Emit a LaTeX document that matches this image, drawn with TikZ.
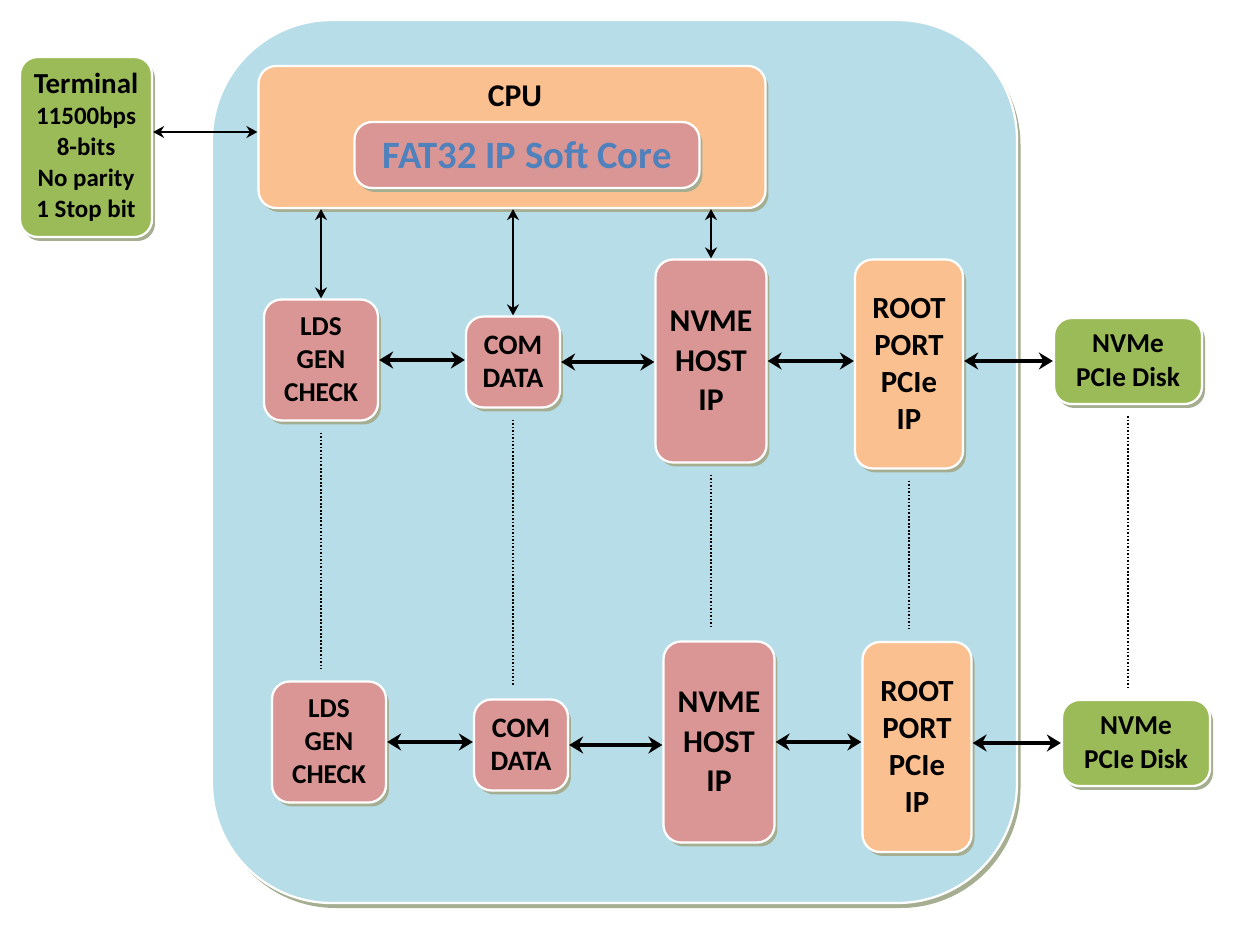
\documentclass[tikz,border=0pt]{standalone}
\usepackage{fontspec}
\setmainfont{Carlito}
\usetikzlibrary{arrows.meta,shadows}

\definecolor{panelblue}{HTML}{B7DDE8}
\definecolor{cpuorange}{HTML}{FAC090}
\definecolor{ippink}{HTML}{D99694}
\definecolor{diskgreen}{HTML}{9BBB59}
\definecolor{fatblue}{HTML}{4F81BD}
\definecolor{shadowgray}{HTML}{A6AE92}

\begin{document}
\begin{tikzpicture}[x=0.02cm, y=-0.02cm,
    box/.style={draw=white, line width=1.3pt, rounded corners=0.35cm,
        align=center, inner sep=0pt, text=black,
        drop shadow={shadow xshift=0.06cm, shadow yshift=-0.08cm,
            fill=shadowgray, opacity=1}},
    pinkbox/.style={box, fill=ippink},
    orangebox/.style={box, fill=cpuorange},
    greenbox/.style={box, fill=diskgreen},
    link/.style={line width=2.2pt, {Stealth[length=0.28cm,width=0.34cm]}-{Stealth[length=0.28cm,width=0.34cm]}},
    thinlink/.style={line width=1.5pt, {Stealth[length=0.22cm,width=0.24cm]}-{Stealth[length=0.22cm,width=0.24cm]}},
    dots/.style={densely dotted, line width=1pt, shorten <=0.22cm, shorten >=0.24cm},
    ldsfont/.style={font={\fontsize{15.5}{18.7}\selectfont\bfseries}},
    comfont/.style={font={\fontsize{16}{18.7}\selectfont\bfseries}},
    hostfont/.style={font={\fontsize{18}{22.5}\selectfont\bfseries}},
    rootfont/.style={font={\fontsize{17.5}{21}\selectfont\bfseries}},
    diskfont/.style={font={\fontsize{15.5}{19.3}\selectfont\bfseries}}]

    \useasboundingbox (0,0) rectangle (1237,935);

    % FPGA board
    \path[fill=panelblue, draw=white, line width=1.3pt, rounded corners=2.4cm,
        drop shadow={shadow xshift=0.07cm, shadow yshift=-0.1cm, fill=shadowgray, opacity=1}]
        (212,20) rectangle (1017,903);

    % Terminal
    \node[greenbox, minimum width=2.64cm, minimum height=3.6cm,
        font={\fontsize{14.2}{17.6}\selectfont\bfseries}] (term) at (86,147)
        {{\fontsize{16.5}{17.6}\selectfont Terminal}\\11500bps\\8-bits\\No parity\\1 Stop bit};

    % CPU with soft core
    \node[orangebox, minimum width=10.14cm, minimum height=2.84cm] (cpu) at (512,137) {};
    \node[font={\fontsize{18}{20}\selectfont\bfseries}] (cpulabel) at (515,96) {CPU};
    \node[pinkbox, minimum width=6.9cm, minimum height=1.32cm, text=fatblue,
        font={\fontsize{22}{24}\selectfont\bfseries}] (fat) at (527,155) {FAT32 IP Soft Core};

    % first channel
    \node[pinkbox, ldsfont, minimum width=2.28cm, minimum height=2.42cm] (lds1) at (321,360) {LDS\\GEN\\CHECK};
    \node[pinkbox, comfont, minimum width=1.88cm, minimum height=1.82cm] (com1) at (513,362) {COM\\DATA};
    \node[pinkbox, hostfont, minimum width=2.22cm, minimum height=4.06cm] (nvme1) at (711,361) {NVME\\HOST\\IP};
    \node[orangebox, rootfont, minimum width=2.16cm, minimum height=4.18cm] (root1) at (909,364) {ROOT\\PORT\\PCIe\\IP};
    \node[greenbox, diskfont, minimum width=2.96cm, minimum height=1.72cm] (disk1) at (1128,361) {NVMe\\PCIe Disk};

    % second channel
    \node[pinkbox, ldsfont, minimum width=2.28cm, minimum height=2.42cm] (lds2) at (329,742) {LDS\\GEN\\CHECK};
    \node[pinkbox, comfont, minimum width=1.88cm, minimum height=1.82cm] (com2) at (521,745) {COM\\DATA};
    \node[pinkbox, hostfont, minimum width=2.22cm, minimum height=4.02cm] (nvme2) at (719,742) {NVME\\HOST\\IP};
    \node[orangebox, rootfont, minimum width=2.18cm, minimum height=4.2cm] (root2) at (917,747) {ROOT\\PORT\\PCIe\\IP};
    \node[greenbox, diskfont, minimum width=2.96cm, minimum height=1.72cm] (disk2) at (1136,743) {NVMe\\PCIe Disk};

    % terminal and CPU links
    \draw[thinlink] ([yshift=0.1cm]term.east |- cpu.west) -- ([yshift=0.1cm]cpu.west);
    \draw[thinlink] (lds1.north |- cpu.south) -- (lds1.north);
    \draw[thinlink] (com1.north |- cpu.south) -- (com1.north);
    \draw[thinlink] (nvme1.north |- cpu.south) -- (nvme1.north);

    % data path, first channel
    \draw[link] (lds1.east) -- (lds1.east -| com1.west);
    \draw[link] (com1.east) -- (com1.east -| nvme1.west);
    \draw[link] (nvme1.east) -- (nvme1.east -| root1.west);
    \draw[link] (root1.east |- disk1.west) -- (disk1.west);

    % data path, second channel
    \draw[link] (lds2.east) -- (lds2.east -| com2.west);
    \draw[link] (com2.east) -- (com2.east -| nvme2.west);
    \draw[link] (nvme2.east) -- (nvme2.east -| root2.west);
    \draw[link] (root2.east |- disk2.west) -- (disk2.west);

    % more channels in between
    \draw[dots] (lds1.south) -- (lds1.south |- lds2.north);
    \draw[dots] (com1.south) -- (com1.south |- com2.north);
    \draw[dots] (nvme1.south) -- (nvme1.south |- nvme2.north);
    \draw[dots] (root1.south) -- (root1.south |- root2.north);
    \draw[dots] (disk1.south) -- (disk1.south |- disk2.north);
\end{tikzpicture}
\end{document}
